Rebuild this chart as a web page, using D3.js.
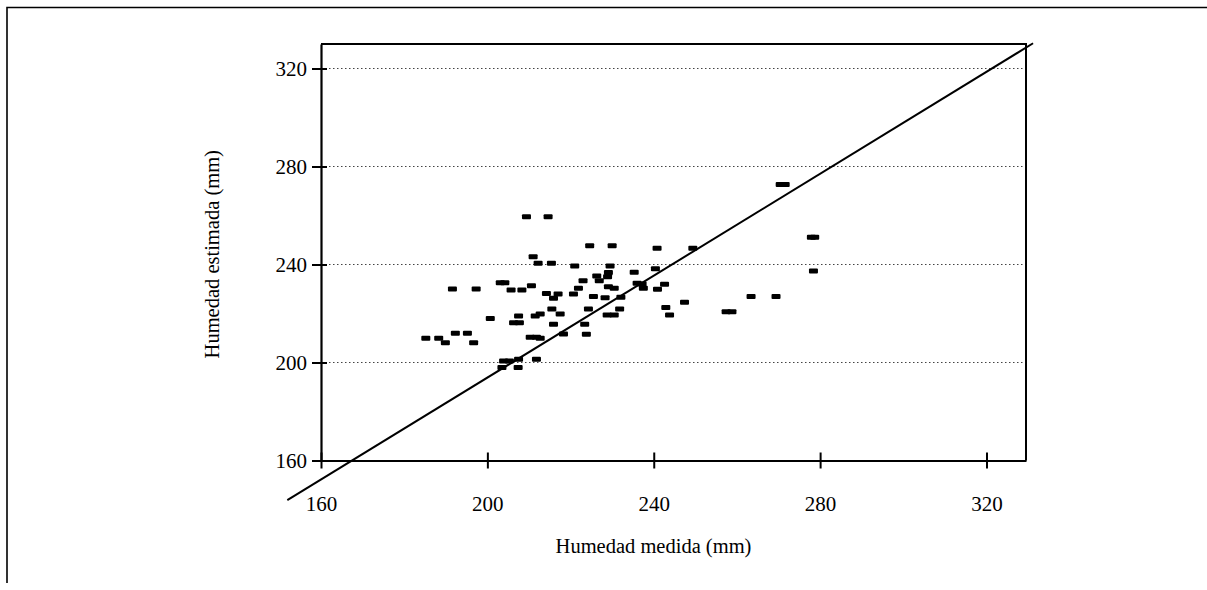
<!DOCTYPE html>
<html>
<head>
<meta charset="utf-8">
<script src="https://cdn.jsdelivr.net/npm/d3@7"></script>
<style>
  body { margin: 0; background: #fff; }
  svg { display: block; }
  text { font-family: "Liberation Serif", "Times New Roman", serif; fill: #000; }
</style>
</head>
<body>
<div id="chart"></div>
<script>
// measured (x) vs estimated (y) soil moisture, mm
const medida = [
  185.2, 188.3, 189.9, 192.3, 195.2, 196.7, 191.6, 197.3, 200.7, 203.1,
  204.2, 203.9, 205.3, 203.5, 207.4, 207.5, 205.7, 208.3, 206.3, 207.7,
  207.5, 209.4, 214.6, 210.6, 211.0, 212.2, 215.4, 210.3, 211.8, 212.7,
  211.5, 212.7, 211.8, 214.2, 217.0, 215.9, 215.5, 217.5, 215.9, 218.3,
  220.7, 221.0, 221.9, 223.0, 224.6, 223.4, 223.8, 224.3, 225.5, 226.3,
  226.9, 228.3, 228.8, 229.1, 229.5, 230.0, 229.1, 230.5, 228.9, 232.1,
  231.8, 230.5, 235.3, 236.0, 237.2, 237.5, 240.4, 240.8, 240.9, 242.6,
  242.9, 243.8, 247.4, 249.4, 257.4, 258.8, 263.4, 269.4, 270.4, 271.6,
  277.9, 278.7, 278.4
]
const estimada = [
  209.9, 209.9, 208.1, 211.9, 211.9, 208.1, 230.0, 230.0, 218.0, 232.6,
  232.6, 200.6, 200.6, 198.0, 198.0, 201.3, 229.6, 229.6, 216.2, 216.2,
  219.0, 259.5, 259.5, 231.3, 243.2, 240.5, 240.5, 210.3, 210.3, 209.9,
  219.0, 219.8, 201.3, 228.2, 228.0, 226.2, 221.8, 219.8, 215.6, 211.6,
  228.0, 239.4, 230.3, 233.4, 247.7, 215.6, 211.5, 221.8, 226.9, 235.3,
  233.4, 226.4, 219.4, 236.7, 239.4, 247.7, 230.9, 230.3, 235.0, 226.6,
  221.8, 219.4, 236.8, 232.3, 232.0, 230.3, 238.3, 246.6, 229.9, 231.9,
  222.5, 219.4, 224.6, 246.6, 220.7, 220.7, 226.9, 226.9, 272.7, 272.7,
  251.1, 251.1, 237.3
]
// fitted line end points
const lineX = [151.9, 331.2]
const lineY = [143.8, 330.3]

const xTicks = [160, 200, 240, 280, 320]
const yTicks = [160, 200, 240, 280, 320]

const W = 1207, H = 590
const mLeft = 321, mRight = 1026, mTop = 44, mBottom = 460.5

const svg = d3.select('#chart').append('svg')
  .attr('width', W)
  .attr('height', H)

// outer frame
svg.append('path')
  .attr('d', 'M7,583V7.5H1207')
  .attr('fill', 'none')
  .attr('stroke', '#000')
  .attr('stroke-width', 1.6)

const x = d3.scaleLinear().domain([160, 329.5]).range([mLeft, mRight])
const y = d3.scaleLinear().domain([160, 330]).range([mBottom, mTop])

// dotted grid
svg.append('g')
  .selectAll('line')
  .data(yTicks.filter(d => d > 160))
  .enter().append('line')
  .attr('x1', mLeft)
  .attr('x2', mRight)
  .attr('y1', d => y(d))
  .attr('y2', d => y(d))
  .attr('stroke', '#444')
  .attr('stroke-width', 1)
  .attr('stroke-dasharray', '1.5,2.5')

// plot frame, top and right
svg.append('path')
  .attr('d', `M${mLeft},${mTop}H${mRight}V${mBottom}`)
  .attr('fill', 'none')
  .attr('stroke', '#000')
  .attr('stroke-width', 2)

const xAxis = svg.append('g')
  .attr('transform', `translate(0,${mBottom})`)
  .call(d3.axisBottom(x).tickValues(xTicks).tickSize(0).tickPadding(36))
xAxis.select('.domain').attr('stroke-width', 2.2)
xAxis.selectAll('.tick').append('line')
  .attr('y1', -8).attr('y2', 8)
  .attr('stroke', '#000').attr('stroke-width', 2)
xAxis.selectAll('.tick text').style('font-size', '21px')

const yAxis = svg.append('g')
  .attr('transform', `translate(${mLeft},0)`)
  .call(d3.axisLeft(y).tickValues(yTicks).tickSize(0).tickPadding(14))
yAxis.select('.domain').attr('stroke-width', 2.2)
yAxis.selectAll('.tick').append('line')
  .attr('x1', -9).attr('x2', 6)
  .attr('stroke', '#000').attr('stroke-width', 2)
yAxis.selectAll('.tick text').style('font-size', '21px')

// fitted line
svg.append('line')
  .attr('x1', x(lineX[0])).attr('y1', y(lineY[0]))
  .attr('x2', x(lineX[1])).attr('y2', y(lineY[1]))
  .attr('stroke', '#000')
  .attr('stroke-width', 2)

// points, drawn as short dashes
svg.append('g')
  .selectAll('rect')
  .data(medida.map((m, i) => [m, estimada[i]]))
  .enter().append('rect')
  .attr('x', d => x(d[0]) - 4.5)
  .attr('y', d => y(d[1]) - 2.5)
  .attr('width', 9)
  .attr('height', 5)
  .attr('rx', 1)
  .attr('fill', '#000')

svg.append('text')
  .attr('x', (mLeft + mRight) / 2 - 20)
  .attr('y', 553)
  .attr('text-anchor', 'middle')
  .style('font-size', '20.5px')
  .text('Humedad medida (mm)')

svg.append('text')
  .attr('transform', `translate(219,${(mTop + mBottom) / 2 + 2})rotate(-90)`)
  .attr('text-anchor', 'middle')
  .style('font-size', '20.5px')
  .text('Humedad estimada (mm)')
</script>
</body>
</html>
